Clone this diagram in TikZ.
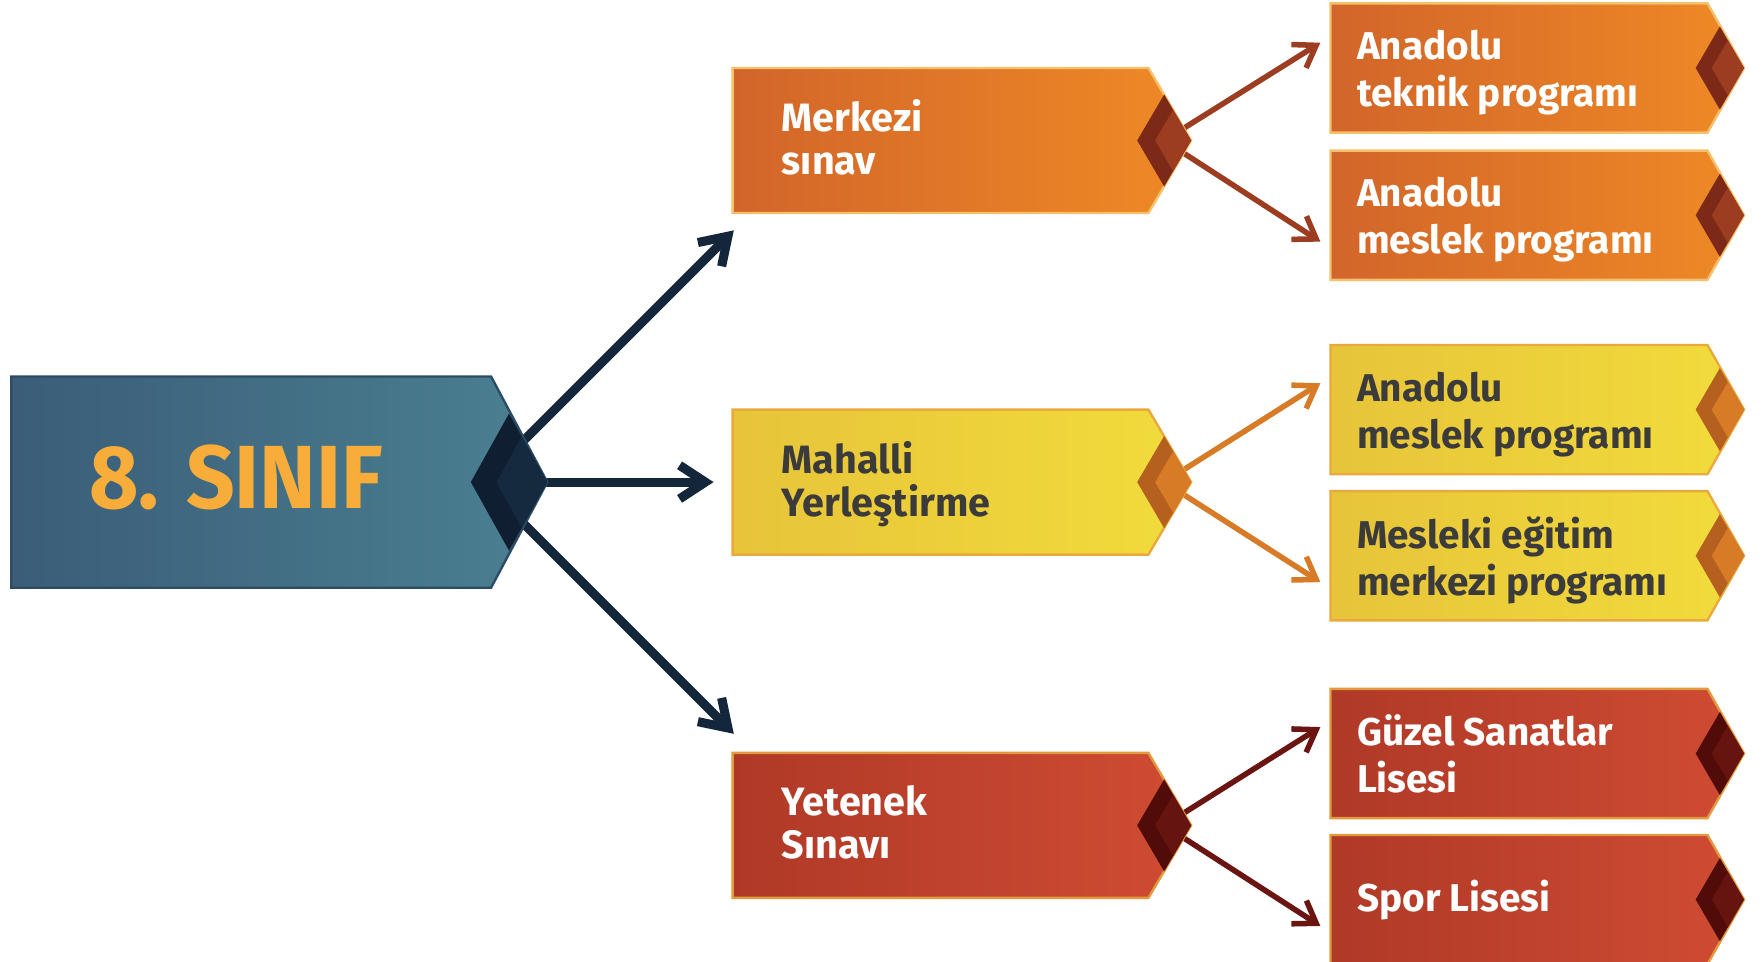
\documentclass[tikz,border=0pt]{standalone}
\usepackage{fontspec}
\setmainfont{Fira Sans}
\newfontfamily\narrowfont{Fira Sans}[FakeStretch=0.95]
\usetikzlibrary{arrows.meta}

\definecolor{blleft}{HTML}{3B5D78}
\definecolor{blright}{HTML}{4A8091}
\definecolor{blborder}{HTML}{2C4C66}
\definecolor{bldark}{HTML}{0F1E30}
\definecolor{bllight}{HTML}{15293F}
\definecolor{blarrow}{HTML}{13263A}
\definecolor{orleft}{HTML}{D2652A}
\definecolor{orright}{HTML}{EF8A25}
\definecolor{orborder}{HTML}{F4C06C}
\definecolor{ordark}{HTML}{7C2A17}
\definecolor{orlight}{HTML}{9C3D21}
\definecolor{orarrow}{HTML}{9C3D21}
\definecolor{yeleft}{HTML}{E7C43A}
\definecolor{yeright}{HTML}{F2DC3B}
\definecolor{yeborder}{HTML}{EAA93C}
\definecolor{yedark}{HTML}{B5601F}
\definecolor{yelight}{HTML}{D77B27}
\definecolor{yearrow}{HTML}{D77B27}
\definecolor{rdleft}{HTML}{AF3927}
\definecolor{rdright}{HTML}{D04C33}
\definecolor{rdborder}{HTML}{E39A3E}
\definecolor{rddark}{HTML}{510C09}
\definecolor{rdlight}{HTML}{66140F}
\definecolor{rdarrow}{HTML}{6A1512}
\definecolor{sinifyellow}{HTML}{F8AD3B}
\definecolor{darktext}{HTML}{3B3B3B}

% box with a pointed right end: left x, corner x, centre y, half height, tip length, colour set
\newcommand{\tagbox}[6]{%
  \path[draw=#6border, line width=0.6pt, left color=#6left, right color=#6right]
    (#1,#3-#4) -- (#2,#3-#4) -- (#2+#5,#3) -- (#2,#3+#4) -- (#1,#3+#4) -- cycle;}
% notch at the tip: tip x, centre y, half width, half height, colour set
\newcommand{\tagnotch}[5]{%
  \fill[#5dark] (#1-2*#3,#2) -- (#1-#3,#2-#4) -- (#1,#2) -- (#1-#3,#2+#4) -- cycle;
  \fill[#5light] (#1-4*#3/3,#2) -- (#1-2*#3/3,#2-2*#4/3) -- (#1,#2) -- (#1-2*#3/3,#2+2*#4/3) -- cycle;}

\begin{document}
\begin{tikzpicture}[x=0.01cm, y=-0.01cm,
  roottext/.style={font=\narrowfont\bfseries\fontsize{22.7}{26}\selectfont, text=sinifyellow},
  midtext/.style={anchor=west, align=left, inner sep=0pt, font=\bfseries\fontsize{10}{10.9}\selectfont,
    execute at begin node=\strut, execute at end node=\strut},
  sidetext/.style={anchor=west, align=left, inner sep=0pt, font=\bfseries\fontsize{9.8}{11.9}\selectfont,
    execute at begin node=\strut, execute at end node=\strut},
  rootarrow/.style={draw=blarrow, line width=2.3pt, -{Straight Barb[length=6.5pt,width=8.5pt]}},
  subarrow/.style={line width=1.4pt, -{Straight Barb[length=5.2pt,width=7pt]}}]
  \useasboundingbox (0,0) rectangle (1568,856);

  % notch centres and arrow ends
  \coordinate (sinif-d) at (429,429);
  \coordinate (merkezi-d) at (1036,125);
  \coordinate (mahalli-d) at (1036,429);
  \coordinate (yetenek-d) at (1036,734.5);
  \coordinate (merkezi-in) at (653,205);
  \coordinate (mahalli-in) at (635,429);
  \coordinate (yetenek-in) at (653,653);
  \coordinate (atp-in) at (1175,38);
  \coordinate (amp-in) at (1175,215);
  \coordinate (amp2-in) at (1175,341);
  \coordinate (mem-in) at (1175,518);
  \coordinate (gsl-in) at (1175,647);
  \coordinate (spor-in) at (1175,824);

  \draw[rootarrow] (sinif-d) -- (merkezi-in);
  \draw[rootarrow] (sinif-d) -- (mahalli-in);
  \draw[rootarrow] (sinif-d) -- (yetenek-in);
  \draw[subarrow, draw=orarrow] (merkezi-d) -- (atp-in);
  \draw[subarrow, draw=orarrow] (merkezi-d) -- (amp-in);
  \draw[subarrow, draw=yearrow] (mahalli-d) -- (amp2-in);
  \draw[subarrow, draw=yearrow] (mahalli-d) -- (mem-in);
  \draw[subarrow, draw=rdarrow] (yetenek-d) -- (gsl-in);
  \draw[subarrow, draw=rdarrow] (yetenek-d) -- (spor-in);

  \tagbox{10}{437}{429}{94}{50}{bl}
  \tagbox{652}{1022}{125}{64.5}{38}{or}
  \tagbox{652}{1022}{429}{64.5}{38}{ye}
  \tagbox{652}{1022}{734.5}{64.5}{38}{rd}
  \tagbox{1184}{1519.5}{60.5}{57.5}{32.5}{or}
  \tagbox{1184}{1519.5}{191.5}{57.5}{32.5}{or}
  \tagbox{1184}{1519.5}{364.5}{57.5}{32.5}{ye}
  \tagbox{1184}{1519.5}{494.5}{57.5}{32.5}{ye}
  \tagbox{1184}{1519.5}{670.5}{57.5}{32.5}{rd}
  \tagbox{1184}{1519.5}{800.5}{57.5}{32.5}{rd}

  \tagnotch{487}{429}{34}{61}{bl}
  \tagnotch{1060}{125}{24}{41}{or}
  \tagnotch{1060}{429}{24}{41}{ye}
  \tagnotch{1060}{734.5}{24}{41}{rd}
  \tagnotch{1552}{60.5}{21.5}{37}{or}
  \tagnotch{1552}{191.5}{21.5}{37}{or}
  \tagnotch{1552}{364.5}{21.5}{37}{ye}
  \tagnotch{1552}{494.5}{21.5}{37}{ye}
  \tagnotch{1552}{670.5}{21.5}{37}{rd}
  \tagnotch{1552}{800.5}{21.5}{37}{rd}

  \node[roottext] (sinif) at (210,425) {8. SINIF};
  \node[midtext, text=white] (merkezi) at (695,128) {Merkezi\\sınav};
  \node[midtext, text=darktext] (mahalli) at (695,432) {Mahalli\\Yerleştirme};
  \node[midtext, text=white] (yetenek) at (695,737.5) {Yetenek\\Sınavı};
  \node[sidetext, text=white] (atp) at (1207,67) {Anadolu\\teknik programı};
  \node[sidetext, text=white] (amp) at (1207,198) {Anadolu\\meslek programı};
  \node[sidetext, text=darktext] (amp2) at (1207,371) {Anadolu\\meslek programı};
  \node[sidetext, text=darktext] (mem) at (1207,501) {Mesleki eğitim\\merkezi programı};
  \node[sidetext, text=white] (gsl) at (1207,677) {Güzel Sanatlar\\Lisesi};
  \node[sidetext, text=white] (spor) at (1207,802.5) {Spor Lisesi};
\end{tikzpicture}
\end{document}
